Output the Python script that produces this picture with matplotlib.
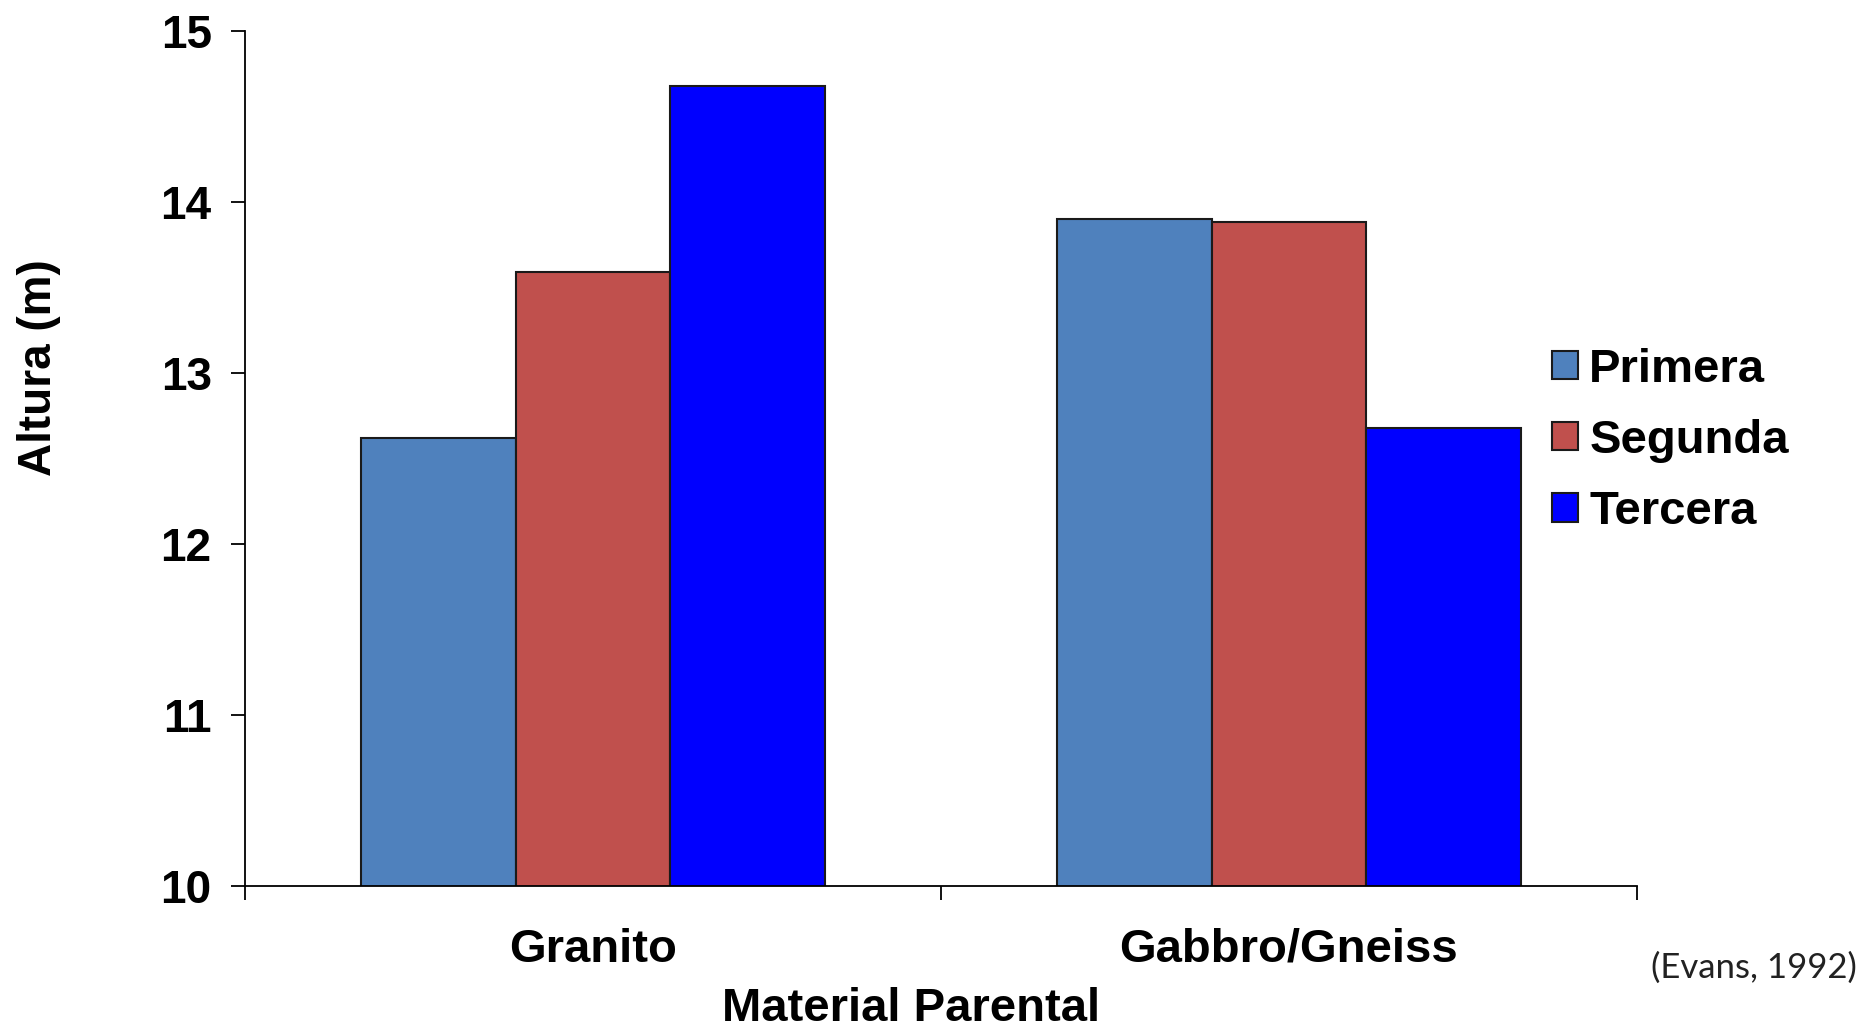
import numpy as np
import matplotlib.pyplot as plt
from matplotlib.ticker import FixedLocator, NullFormatter

# alturas (m) por material parental y por rotacion
categorias = ['Granito', 'Gabbro/Gneiss']
series = ['Primera', 'Segunda', 'Tercera']
primera = [12.62, 13.90]
segunda = [13.59, 13.88]
tercera = [14.68, 12.68]
colores = ['#4F81BD', '#C0504D', '#0000FF']

plt.rcParams['font.family'] = ['Liberation Sans', 'DejaVu Sans']

fig = plt.figure(figsize=(18.6, 10.27), dpi=100)
ax = fig.add_axes([0.1317, 0.1373, 0.7483, 0.8327])

x = np.arange(len(categorias))
w = 0.222
for i, (nombre, vals) in enumerate(zip(series, [primera, segunda, tercera])):
    ax.bar(x + (i - 1) * w, vals, width=w, color=colores[i], edgecolor='#1a1a1a',
           linewidth=1.5, label=nombre, zorder=2)

ax.set_xlim(-0.5, 1.5)
ax.set_ylim(10, 15)
ax.set_yticks([10, 11, 12, 13, 14, 15])
ax.tick_params(axis='y', direction='out', length=10, width=1.3, labelsize=33, pad=14)
for t in ax.get_yticklabels():
    t.set_fontweight('bold')

# etiquetas centradas, marcas en los limites de cada grupo
ax.set_xticks(x)
ax.set_xticklabels(categorias, fontsize=34, fontweight='bold')
ax.tick_params(axis='x', which='major', length=0, pad=30)
ax.xaxis.set_minor_locator(FixedLocator([-0.5, 0.5, 1.5]))
ax.xaxis.set_minor_formatter(NullFormatter())
ax.tick_params(axis='x', which='minor', direction='out', length=10, width=1.3)

for s in ['top', 'right']:
    ax.spines[s].set_visible(False)
for s in ['left', 'bottom']:
    ax.spines[s].set_linewidth(1.3)

fig.text(0.4898, 0.018, 'Material Parental', ha='center', va='center',
         fontsize=34, fontweight='bold')
fig.text(0.021, 0.642, 'Altura (m)', ha='center', va='center', rotation=90,
         fontsize=33, fontweight='bold')
fig.text(0.9985, 0.058, '(Evans, 1992)', ha='right', va='center',
         fontsize=25, family=['Lato', 'DejaVu Sans'], color='#222222')

fig.legend(loc='upper left', bbox_to_anchor=(0.824, 0.680), frameon=False,
           prop={'family': 'Liberation Sans', 'weight': 'bold', 'size': 34},
           handlelength=0.55, handleheight=0.55, handletextpad=0.25, labelspacing=0.58,
           borderaxespad=0)

fig.savefig('out.png', dpi=100)
